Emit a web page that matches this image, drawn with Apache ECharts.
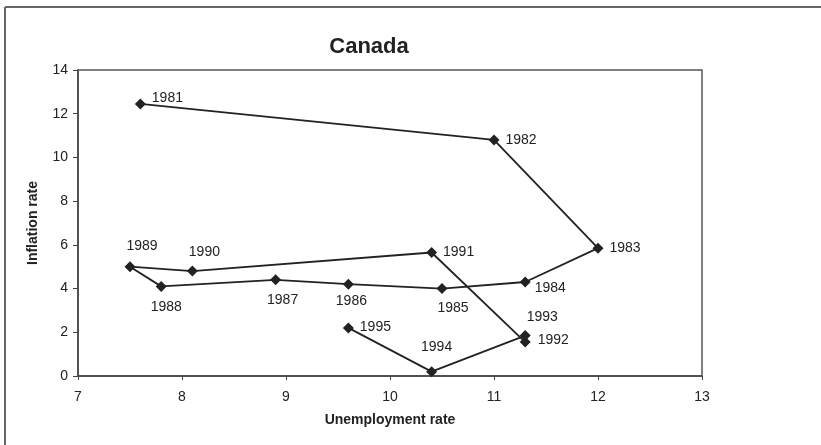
<!DOCTYPE html>
<html>
<head>
<meta charset="utf-8">
<script src="https://cdn.jsdelivr.net/npm/echarts@6/dist/echarts.min.js"></script>
<style>html,body{margin:0;padding:0;background:#fff;}#c{width:821px;height:445px;}</style>
</head>
<body>
<div id="c"></div>
<script>
const years = ["1981","1982","1983","1984","1985","1986","1987","1988","1989","1990","1991","1992","1993","1994","1995"];
const unemployment = [7.6, 11.0, 12.0, 11.3, 10.5, 9.6, 8.9, 7.8, 7.5, 8.1, 10.4, 11.3, 11.3, 10.4, 9.6];
const inflation = [12.45, 10.8, 5.85, 4.3, 4.0, 4.2, 4.4, 4.1, 5.0, 4.8, 5.65, 1.55, 1.85, 0.2, 2.2];
const xTicks = [7, 8, 9, 10, 11, 12, 13];
const yTicks = [0, 2, 4, 6, 8, 10, 12, 14];

// label placement (pixel offsets of label centre from its point)
const labelOffsets = [[27,-6],[27,0],[27,0],[25,6],[11,20],[3,17],[7,20],[5,21],[12,-21],[12,-19],[27,0],[28,-2],[17,-18],[5,-24],[27,-1]];

const font = '"Liberation Sans", Arial, sans-serif';
const data = years.map((y, i) => ({
  value: [unemployment[i], inflation[i]],
  name: y,
  label: { offset: labelOffsets[i] }
}));

const chart = echarts.init(document.getElementById('c'));
chart.setOption({
  animation: false,
  backgroundColor: '#fff',
  title: {
    text: 'Canada',
    left: 364, top: 31, textAlign: 'center',
    textStyle: { fontFamily: font, fontSize: 22, fontWeight: 'bold', color: '#222' }
  },
  grid: {
    left: 78, top: 70, right: 119, bottom: 69,
    show: true, borderColor: '#555', borderWidth: 1.5, backgroundColor: 'transparent'
  },
  xAxis: {
    type: 'value', min: xTicks[0], max: xTicks[xTicks.length-1], interval: 1,
    name: 'Unemployment rate', nameLocation: 'middle', nameGap: 37,
    nameTextStyle: { fontFamily: font, fontSize: 14, fontWeight: 'bold', color: '#222' },
    axisLine: { show: true, lineStyle: { color: '#444', width: 1.5 } },
    axisTick: { show: true, length: 4, lineStyle: { color: '#444' } },
    axisLabel: { fontFamily: font, fontSize: 14, color: '#222', margin: 14 },
    splitLine: { show: false }
  },
  yAxis: {
    type: 'value', min: yTicks[0], max: yTicks[yTicks.length-1], interval: 2,
    name: 'Inflation rate', nameLocation: 'middle', nameGap: 38, nameRotate: 90,
    nameTextStyle: { fontFamily: font, fontSize: 14, fontWeight: 'bold', color: '#222' },
    axisLine: { show: true, lineStyle: { color: '#444', width: 1.5 } },
    axisTick: { show: true, length: 5, lineStyle: { color: '#444' } },
    axisLabel: { fontFamily: font, fontSize: 14, color: '#222', margin: 10 },
    splitLine: { show: false }
  },
  series: [{
    type: 'line',
    data: data,
    symbol: 'diamond', symbolSize: 11,
    lineStyle: { color: '#222', width: 1.8 },
    itemStyle: { color: '#222' },
    label: {
      show: true, position: 'inside', align: 'center', verticalAlign: 'middle',
      formatter: p => p.name,
      fontFamily: font, fontSize: 14, color: '#222'
    }
  }],
  graphic: [
    { type: 'line', shape: { x1: 5, y1: 7, x2: 5, y2: 445 }, style: { stroke: '#666', lineWidth: 2 } },
    { type: 'line', shape: { x1: 5, y1: 7, x2: 821, y2: 7 }, style: { stroke: '#666', lineWidth: 2 } }
  ]
});
</script>
</body>
</html>
